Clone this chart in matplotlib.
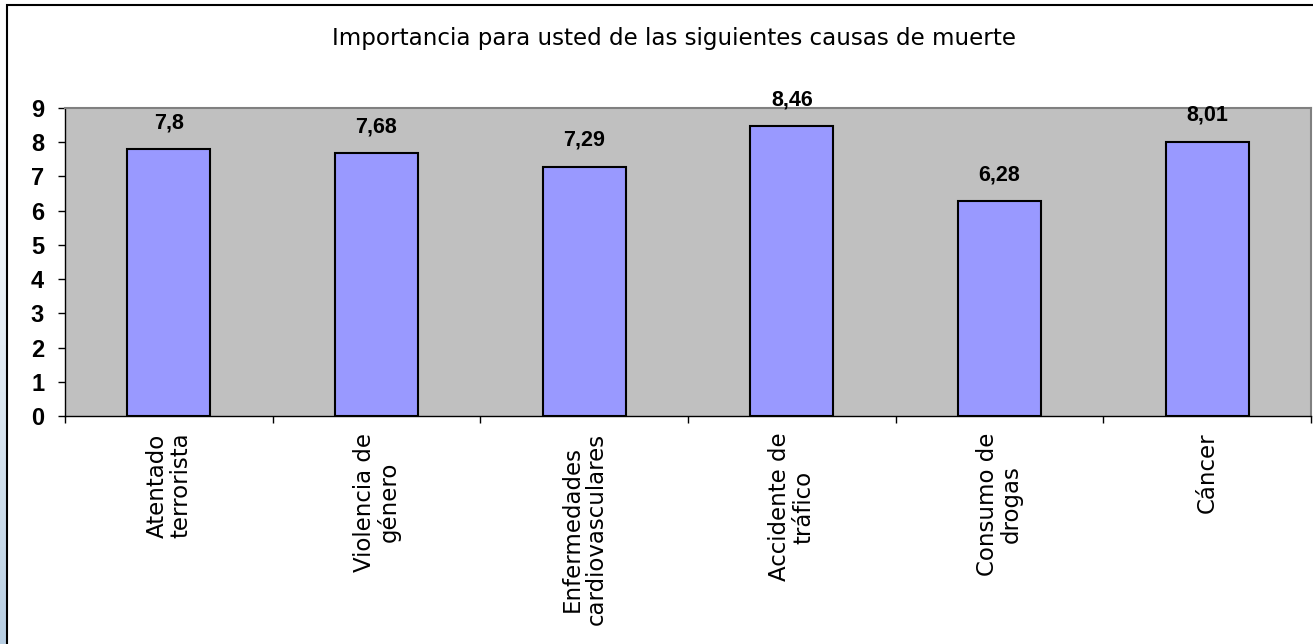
import matplotlib.pyplot as plt
import numpy as np
from matplotlib.patches import Rectangle

categories = ["Atentado\nterrorista", "Violencia de\ngénero", "Enfermedades\ncardiovasculares",
              "Accidente de\ntráfico", "Consumo de\ndrogas", "Cáncer"]
values = [7.8, 7.68, 7.29, 8.46, 6.28, 8.01]
value_labels = ["7,8", "7,68", "7,29", "8,46", "6,28", "8,01"]
yticks = list(range(0, 10))

W, H = 1313, 644
fig = plt.figure(figsize=(W / 100, H / 100), dpi=100)

# left gradient strip
strip = fig.add_axes([0, 0, 7 / W, 1])
grad = np.linspace(0, 1, 256).reshape(-1, 1)
top_c = np.array([1.0, 1.0, 1.0])
bot_c = np.array([0.72, 0.81, 0.89])
img = top_c + (bot_c - top_c) * grad[:, :, None] ** 1.5
strip.imshow(img, aspect="auto", extent=[0, 1, 0, 1], origin="upper")
strip.axis("off")

# outer frame
fig.patches.append(Rectangle((7 / W, -0.01), 1.1, 1 - 5 / H + 0.01, transform=fig.transFigure,
                             fill=False, edgecolor="black", linewidth=1.5))

ax = fig.add_axes([65 / W, 1 - 416 / H, (1311 - 65) / W, (416 - 108) / H])
ax.set_facecolor("#C0C0C0")

x = np.arange(len(values))
ax.bar(x, values, width=0.4, color="#9999FF", edgecolor="black", linewidth=1.5, zorder=3)
ax.set_xlim(-0.5, len(values) - 0.5)
ax.set_ylim(0, 9)

for xi, v, lab in zip(x, values, value_labels):
    ax.annotate(lab, (xi, v), xytext=(0, 19), textcoords="offset points",
                ha="center", va="center", fontsize=15.5, fontweight="bold",
                family="Liberation Sans", annotation_clip=False)

ax.set_yticks(yticks)
ax.set_yticklabels([str(t) for t in yticks], fontsize=17, fontweight="bold", family="Liberation Sans")
ax.tick_params(axis="y", length=5, width=1, pad=10)

ax.set_xticks(np.arange(-0.5, len(values)), [])
ax.tick_params(axis="x", which="major", length=5, width=1)
ax.set_xticks(x, categories, minor=True)
ax.tick_params(axis="x", which="minor", length=0, pad=12)
for t in ax.get_xticklabels(minor=True):
    t.set_rotation(90)
    t.set_va("top")
    t.set_ha("center")
    t.set_multialignment("center")
    t.set_fontsize(16.5)
    t.set_family("DejaVu Sans")
    t.set_linespacing(1.05)

for s in ["top", "right"]:
    ax.spines[s].set_color("#808080")
    ax.spines[s].set_linewidth(1.5)
for s in ["left", "bottom"]:
    ax.spines[s].set_color("black")
    ax.spines[s].set_linewidth(1)

fig.text(0.5 * (331 + 1018) / W, 1 - 38 / H, "Importancia para usted de las siguientes causas de muerte",
         ha="center", va="center", fontsize=16.6, family="DejaVu Sans")

fig.savefig("out.png", dpi=100)
